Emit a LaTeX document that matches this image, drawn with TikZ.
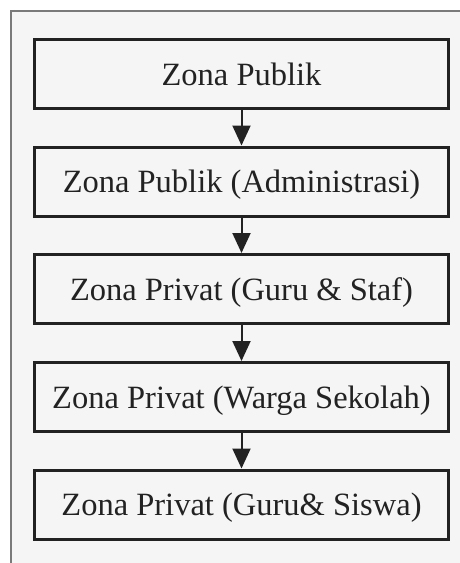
\documentclass[tikz,border=0pt]{standalone}
\usepackage{fontspec}
\setmainfont{Liberation Serif}
\usetikzlibrary{arrows.meta}
\definecolor{bgfill}{HTML}{F5F5F6}
\definecolor{ink}{HTML}{222222}
\definecolor{framec}{HTML}{7A7A7A}
\begin{document}
\begin{tikzpicture}[x=1pt,y=-1pt,
  zbox/.style={draw=ink, line width=3pt, minimum width=414pt, minimum height=69pt,
    inner sep=0pt, text height=22.5pt, text depth=0pt,
    font=\fontsize{32.5}{38}\selectfont, text=ink},
  flow/.style={draw=ink, line width=2pt, -{Triangle[length=20pt,width=18pt]}}]
\useasboundingbox (0,0) rectangle (460,563);
\fill[white] (0,0) rectangle (460,563);
\fill[bgfill] (11,11) rectangle (460,563);
\draw[framec, line width=1.3pt] (11,563) -- (11,11) -- (460,11);
\node[zbox] (z1) at (241.5,74) {Zona Publik};
\node[zbox] (z2) at (241.5,181.5) {Zona Publik (Administrasi)};
\node[zbox] (z3) at (241.5,289) {Zona Privat (Guru \& Staf)};
\node[zbox] (z4) at (241.5,397) {Zona Privat (Warga Sekolah)};
\node[zbox] (z5) at (241.5,504.5) {Zona Privat (Guru\& Siswa)};
\draw[flow] (z1.south) -- (z2.north);
\draw[flow] (z2.south) -- (z3.north);
\draw[flow] (z3.south) -- (z4.north);
\draw[flow] (z4.south) -- (z5.north);
\end{tikzpicture}
\end{document}
